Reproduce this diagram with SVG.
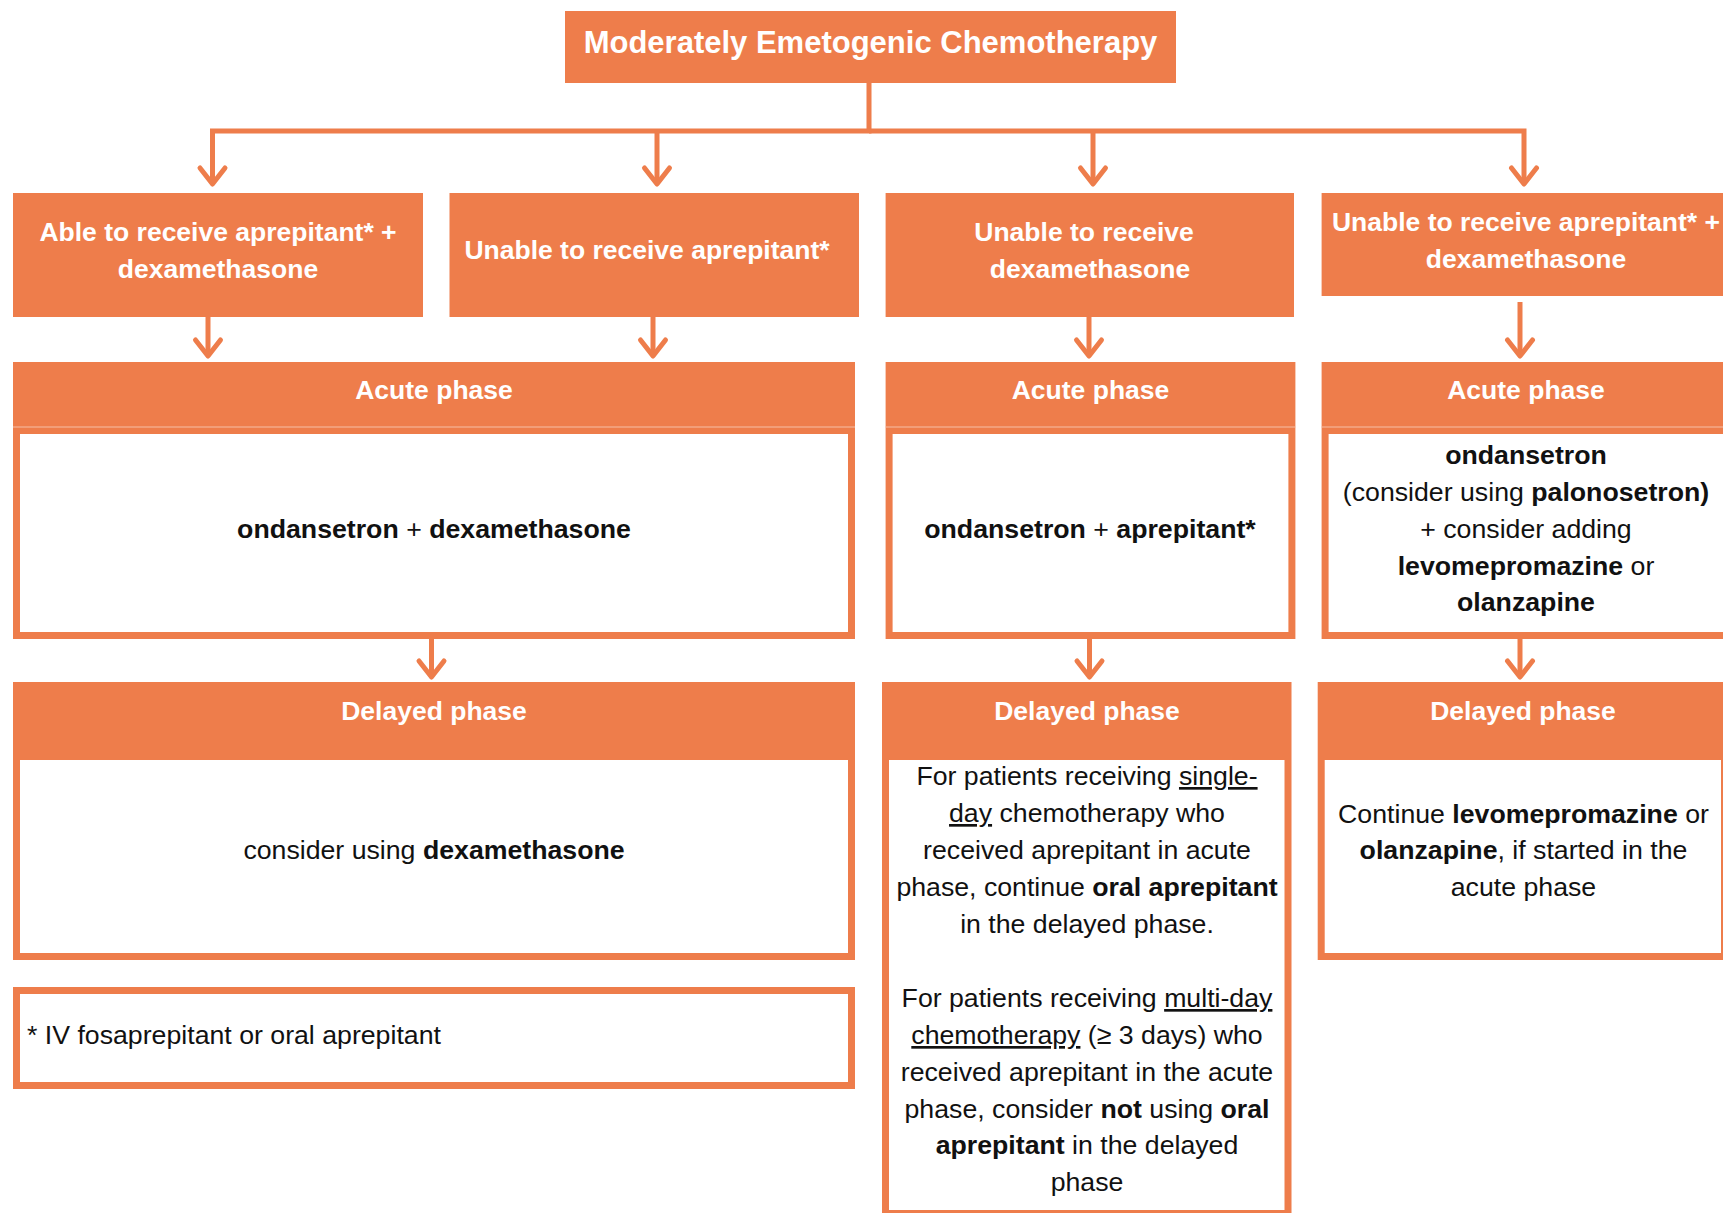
<svg xmlns="http://www.w3.org/2000/svg" width="1723" height="1213" viewBox="0 0 1723 1213">
  <defs>
    <style>
      .fill { fill: #EE7D4B; }
      .frame { fill: #FFFFFF; stroke: #EE7D4B; stroke-width: 7; }
      .seam { stroke: #F6BFA6; stroke-width: 1; }
      .title { font-family: "Liberation Sans", Arial, sans-serif; font-weight: bold; font-size: 31px; fill: #FFFFFF; text-anchor: middle; }
      .hd { font-family: "Liberation Sans", Arial, sans-serif; font-weight: bold; font-size: 26.5px; fill: #FFFFFF; text-anchor: middle; }
      .tx { font-family: "Liberation Sans", Arial, sans-serif; font-size: 26.7px; fill: #111111; text-anchor: middle; }
      .note { font-family: "Liberation Sans", Arial, sans-serif; font-size: 26.7px; fill: #111111; }
      .b { font-weight: bold; }
      .u { text-decoration: underline; }
      .wire { fill: none; stroke: #EE7D4B; stroke-width: 5; }
      .arrow { marker-end: url(#arr); }
    </style>
    <marker id="arr" markerUnits="userSpaceOnUse" viewBox="-20 -15 24 30" refX="0" refY="0" markerWidth="24" markerHeight="30" orient="auto" overflow="visible">
      <path d="M-16,-12.5 L0,0 L-16,12.5" fill="none" stroke="#EE7D4B" stroke-width="5" stroke-linecap="round" stroke-linejoin="round"/>
    </marker>
  </defs>

  <rect width="1723" height="1213" fill="#FFFFFF"/>

  <!-- connectors -->
  <g id="connectors">
    <path class="wire arrow" d="M869,83 V131 H212.5 V184"/>
    <path class="wire arrow" d="M869,131 H1524 V184"/>
    <path class="wire arrow" d="M657,131 V184"/>
    <path class="wire arrow" d="M1093,131 V184"/>

    <path class="wire arrow" d="M208,317 V356"/>
    <path class="wire arrow" d="M653,317 V356"/>
    <path class="wire arrow" d="M1089,317 V356"/>
    <path class="wire arrow" d="M1520,302 V356"/>

    <path class="wire arrow" d="M431.5,639 V677"/>
    <path class="wire arrow" d="M1089.5,639 V677"/>
    <path class="wire arrow" d="M1520,639 V677"/>
  </g>

  <!-- root -->
  <g id="moderately-emetogenic">
    <rect class="fill" x="565" y="11" width="611" height="72"/>
    <text class="title" x="870.5" y="52.5">Moderately Emetogenic Chemotherapy</text>
  </g>

  <!-- first level: patient groups -->
  <g id="able-aprepitant-dexamethasone">
    <rect class="fill" x="13" y="193" width="410" height="124"/>
    <text class="hd" x="218" y="241">Able to receive aprepitant* +</text>
    <text class="hd" x="218" y="278">dexamethasone</text>
  </g>
  <g id="unable-aprepitant">
    <rect class="fill" x="449.5" y="193" width="409.5" height="124"/>
    <text class="hd" x="647" y="259">Unable to receive aprepitant*</text>
  </g>
  <g id="unable-dexamethasone">
    <rect class="fill" x="885.6" y="193" width="408.4" height="124"/>
    <text class="hd" x="1084" y="241">Unable to receive</text>
    <text class="hd" x="1090" y="278">dexamethasone</text>
  </g>
  <g id="unable-both">
    <rect class="fill" x="1321.6" y="193" width="410" height="103"/>
    <text class="hd" x="1526" y="231">Unable to receive aprepitant* +</text>
    <text class="hd" x="1526" y="268">dexamethasone</text>
  </g>

  <!-- acute phase -->
  <g id="acute-left">
    <rect class="fill" x="13" y="362" width="842" height="65"/>
    <text class="hd" x="434" y="398.5">Acute phase</text>
    <rect class="frame" x="16.5" y="430.5" width="835" height="205"/>
    <line class="seam" x1="13" y1="427" x2="855" y2="427"/>
    <text class="tx" x="434" y="537.5"><tspan class="b">ondansetron</tspan> + <tspan class="b">dexamethasone</tspan></text>
  </g>
  <g id="acute-middle">
    <rect class="fill" x="885.6" y="362" width="409.8" height="65"/>
    <text class="hd" x="1090.5" y="398.5">Acute phase</text>
    <rect class="frame" x="889.1" y="430.5" width="402.8" height="205"/>
    <line class="seam" x1="885.6" y1="427" x2="1295.4" y2="427"/>
    <text class="tx" x="1090" y="537.5"><tspan class="b">ondansetron</tspan> + <tspan class="b">aprepitant*</tspan></text>
  </g>
  <g id="acute-right">
    <rect class="fill" x="1321.6" y="362" width="410" height="65"/>
    <text class="hd" x="1526" y="398.5">Acute phase</text>
    <rect class="frame" x="1325.1" y="430.5" width="403" height="205"/>
    <line class="seam" x1="1321.6" y1="427" x2="1731.6" y2="427"/>
    <text class="tx" x="1526" y="464"><tspan class="b">ondansetron</tspan></text>
    <text class="tx" x="1526" y="501">(consider using <tspan class="b">palonosetron)</tspan></text>
    <text class="tx" x="1526" y="537.5">+ consider adding</text>
    <text class="tx" x="1526" y="574.5"><tspan class="b">levomepromazine</tspan> or</text>
    <text class="tx" x="1526" y="611.2"><tspan class="b">olanzapine</tspan></text>
  </g>

  <!-- delayed phase -->
  <g id="delayed-left">
    <rect class="fill" x="13" y="682" width="842" height="71"/>
    <text class="hd" x="434" y="720">Delayed phase</text>
    <rect class="frame" x="16.5" y="756.5" width="835" height="200"/>
    <text class="tx" x="434" y="859">consider using <tspan class="b">dexamethasone</tspan></text>
  </g>
  <g id="delayed-middle">
    <rect class="fill" x="882" y="682" width="409.5" height="71"/>
    <text class="hd" x="1087" y="720">Delayed phase</text>
    <rect class="frame" x="885.5" y="756.5" width="402.5" height="457"/>
    <text class="tx" x="1087" y="785">For patients receiving <tspan class="u">single-</tspan></text>
    <text class="tx" x="1087" y="822"><tspan class="u">day</tspan> chemotherapy who</text>
    <text class="tx" x="1087" y="858.8">received aprepitant in acute</text>
    <text class="tx" x="1087" y="895.7">phase, continue <tspan class="b">oral aprepitant</tspan></text>
    <text class="tx" x="1087" y="932.5">in the delayed phase.</text>
    <text class="tx" x="1087" y="1007">For patients receiving <tspan class="u">multi-day</tspan></text>
    <text class="tx" x="1087" y="1044"><tspan class="u">chemotherapy</tspan> (≥ 3 days) who</text>
    <text class="tx" x="1087" y="1080.8">received aprepitant in the acute</text>
    <text class="tx" x="1087" y="1117.6">phase, consider <tspan class="b">not</tspan> using <tspan class="b">oral</tspan></text>
    <text class="tx" x="1087" y="1154.4"><tspan class="b">aprepitant</tspan> in the delayed</text>
    <text class="tx" x="1087" y="1190.5">phase</text>
  </g>
  <g id="delayed-right">
    <rect class="fill" x="1317.7" y="682" width="410.3" height="71"/>
    <text class="hd" x="1523" y="720">Delayed phase</text>
    <rect class="frame" x="1321.2" y="756.5" width="403.3" height="200"/>
    <text class="tx" x="1523.5" y="822.5">Continue <tspan class="b">levomepromazine</tspan> or</text>
    <text class="tx" x="1523.5" y="859.3"><tspan class="b">olanzapine</tspan>, if started in the</text>
    <text class="tx" x="1523.5" y="896.1">acute phase</text>
  </g>

  <!-- footnote -->
  <g id="footnote">
    <rect class="frame" x="16.5" y="990.5" width="835" height="95"/>
    <text class="note" x="27" y="1043.5">* IV fosaprepitant or oral aprepitant</text>
  </g>
</svg>
